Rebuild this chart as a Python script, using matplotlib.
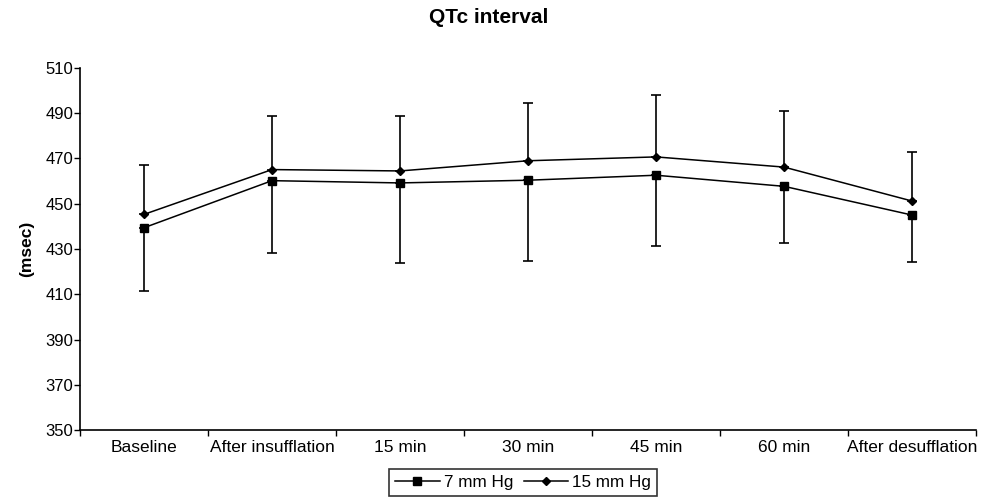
import numpy as np
import matplotlib.pyplot as plt
from matplotlib.ticker import FixedLocator

plt.rcParams['font.family'] = ['Liberation Sans', 'DejaVu Sans']

# values
timepoints = ['Baseline', 'After insufflation', '15 min', '30 min',
              '45 min', '60 min', 'After desufflation']
qtc_7mm = [439.4, 460.2, 459.2, 460.4, 462.6, 457.7, 445.0]
qtc_15mm = [445.3, 465.1, 464.5, 469.0, 470.7, 466.2, 451.2]
sd_7mm = [27.8, 32.1, 35.5, 35.6, 31.1, 25.2, 20.7]     # drawn below only
sd_15mm = [22.0, 23.7, 24.3, 25.4, 27.5, 24.8, 21.5]    # drawn above only
y_ticks = [350, 370, 390, 410, 430, 450, 470, 490, 510]

fig = plt.figure(figsize=(9.89, 5.01), dpi=100)
ax = fig.add_axes([0.0809, 0.1417, 0.906, 0.7226])

x = np.arange(len(timepoints))
zeros = np.zeros(len(x))

ax.errorbar(x, qtc_7mm, yerr=[sd_7mm, zeros], fmt='none', ecolor='black',
            elinewidth=1.2, capsize=3.3, capthick=1.2)
ax.errorbar(x, qtc_15mm, yerr=[zeros, sd_15mm], fmt='none', ecolor='black',
            elinewidth=1.2, capsize=3.3, capthick=1.2)
ax.plot(x, qtc_7mm, color='black', lw=1.1, marker='s', ms=5.5,
        label='7 mm Hg')
ax.plot(x, qtc_15mm, color='black', lw=1.1, marker='D', ms=4.5,
        label='15 mm Hg')

ax.set_xlim(-0.5, len(timepoints) - 0.5)
ax.set_ylim(350, 510)
ax.set_yticks(y_ticks)
ax.tick_params(axis='y', direction='out', length=4, width=1, labelsize=12, pad=1)

# ticks between categories, labels centred on categories
ax.xaxis.set_major_locator(FixedLocator(np.arange(-0.5, len(timepoints), 1.0)))
ax.xaxis.set_major_formatter(plt.NullFormatter())
ax.xaxis.set_minor_locator(FixedLocator(x))
ax.set_xticklabels(timepoints, minor=True)
ax.tick_params(axis='x', which='major', direction='out', length=4, width=1)
ax.tick_params(axis='x', which='minor', length=0, labelsize=12.5, pad=7)

for side in ['top', 'right']:
    ax.spines[side].set_visible(False)
for side in ['left', 'bottom']:
    ax.spines[side].set_linewidth(1.2)

ax.set_ylabel('(msec)', fontsize=12.5, fontweight='bold', labelpad=8)
fig.text(0.494, 0.966, 'QTc interval', ha='center', va='center',
         fontsize=15, fontweight='bold')

leg = fig.legend(loc='upper center', bbox_to_anchor=(0.529, 0.064), ncol=2,
                 frameon=True, fancybox=False, edgecolor='black',
                 fontsize=12.3, handlelength=2.6, handletextpad=0.25,
                 columnspacing=0.6, borderaxespad=0, borderpad=0.35)
leg.get_frame().set_linewidth(1.2)

fig.savefig('out.png', dpi=100)
